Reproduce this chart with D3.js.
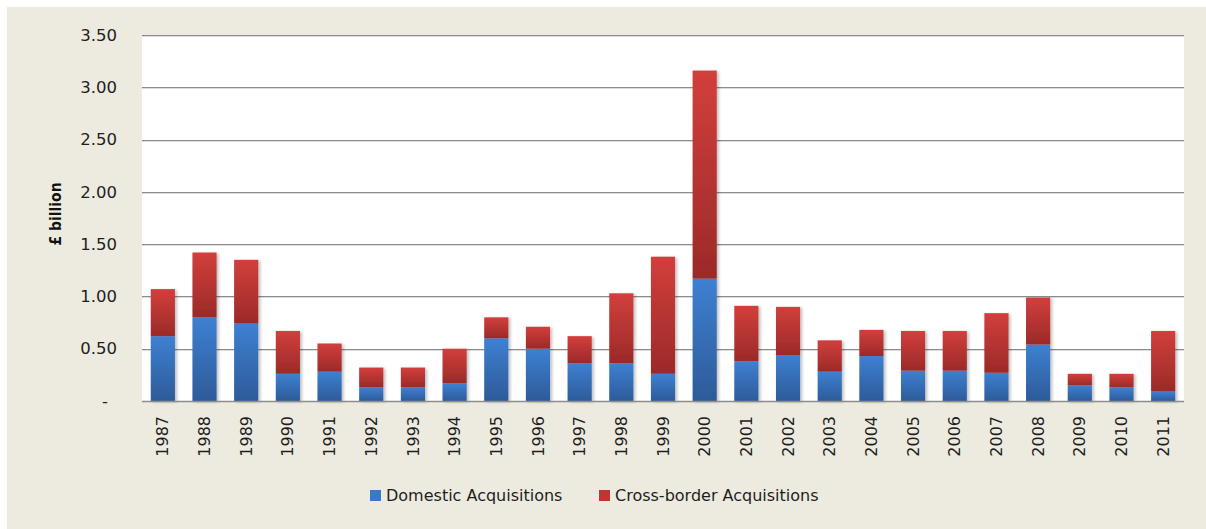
<!DOCTYPE html>
<html><head><meta charset="utf-8">
<script src="https://cdn.jsdelivr.net/npm/d3@7/dist/d3.min.js"></script>
<style>
html,body{margin:0;padding:0;background:#fff;}
svg{display:block;}
</style></head>
<body>
<svg id="chart" width="1206" height="529"></svg>
<script>
const years = ["1987","1988","1989","1990","1991","1992","1993","1994","1995","1996","1997","1998","1999","2000","2001","2002","2003","2004","2005","2006","2007","2008","2009","2010","2011"];
const domestic = [0.62,0.80,0.74,0.26,0.28,0.13,0.13,0.17,0.60,0.50,0.36,0.36,0.26,1.17,0.38,0.44,0.28,0.43,0.29,0.29,0.27,0.54,0.15,0.13,0.09];
const crossBorder = [0.45,0.62,0.61,0.41,0.27,0.19,0.19,0.33,0.20,0.21,0.26,0.67,1.12,1.99,0.53,0.46,0.30,0.25,0.38,0.38,0.57,0.45,0.11,0.13,0.58];
const yTicks = [0,0.5,1,1.5,2,2.5,3,3.5];
const yTickLabels = ["-","0.50","1.00","1.50","2.00","2.50","3.00","3.50"];
const seriesNames = ["Domestic Acquisitions","Cross-border Acquisitions"];

const svg = d3.select("#chart");
const W = 1206, H = 529;
const plot = {x0:142, x1:1184, y0:35, y1:401};

// backgrounds
svg.append("rect").attr("x",0).attr("y",0).attr("width",W).attr("height",H).attr("fill","#ffffff");
svg.append("rect").attr("x",7).attr("y",7).attr("width",W-7).attr("height",H-7).attr("fill","#EDEAE0");
svg.append("rect").attr("x",plot.x0).attr("y",plot.y0).attr("width",plot.x1-plot.x0).attr("height",plot.y1-plot.y0).attr("fill","#ffffff");

const defs = svg.append("defs");
function grad(id, top, bottom){
  const g = defs.append("linearGradient").attr("id",id).attr("x1",0).attr("y1",0).attr("x2",0).attr("y2",1);
  g.append("stop").attr("offset","0%").attr("stop-color",top);
  g.append("stop").attr("offset","100%").attr("stop-color",bottom);
}
grad("gBlue","#3E80D2","#2D5B99");
grad("gRed","#D23F3C","#9B2A28");
const f = defs.append("filter").attr("id","shadow").attr("x","-20%").attr("y","-5%").attr("width","150%").attr("height","120%");
f.append("feDropShadow").attr("dx",2).attr("dy",1).attr("stdDeviation",1.5).attr("flood-color","#000").attr("flood-opacity",0.25);

const x = d3.scaleBand().domain(years).range([plot.x0, plot.x1]).paddingInner(0.42).paddingOuter(0.21);
const y = d3.scaleLinear().domain([0,3.5]).range([plot.y1, plot.y0]);

// gridlines
svg.append("g").selectAll("line").data(yTicks.filter(d=>d>0)).join("line")
  .attr("x1",plot.x0).attr("x2",plot.x1)
  .attr("y1",d=>Math.round(y(d))+0.5).attr("y2",d=>Math.round(y(d))+0.5)
  .attr("stroke","#8c8c8c").attr("stroke-width",1.2);
svg.append("g").selectAll("line").data(yTicks.filter(d=>d>0)).join("line")
  .attr("x1",plot.x0).attr("x2",plot.x1)
  .attr("y1",d=>Math.round(y(d))+1.5).attr("y2",d=>Math.round(y(d))+1.5)
  .attr("stroke","#dcdcdc").attr("stroke-width",1);

// bars
const stackData = years.map((yr,i)=>({year:yr, d:domestic[i], c:crossBorder[i]}));
const stack = d3.stack().keys(["d","c"])(stackData);
const fills = ["url(#gBlue)","url(#gRed)"];
const bars = svg.append("g").attr("filter","url(#shadow)");
stack.forEach((layer,li)=>{
  bars.append("g").selectAll("rect").data(layer).join("rect")
    .attr("x",d=>x(d.data.year))
    .attr("width",x.bandwidth())
    .attr("y",d=>y(d[1]))
    .attr("height",d=>y(d[0])-y(d[1]))
    .attr("fill",fills[li]);
});

// baseline
svg.append("line").attr("x1",plot.x0).attr("x2",plot.x1)
  .attr("y1",plot.y1+0.5).attr("y2",plot.y1+0.5)
  .attr("stroke","#8c8c8c").attr("stroke-width",1.5);

// y axis labels
const yAxis = d3.axisLeft(y).tickValues(yTicks).tickSize(0).tickPadding(0)
  .tickFormat((d,i)=>yTickLabels[i]);
const ya = svg.append("g").attr("transform","translate(117,0)").call(yAxis);
ya.select(".domain").remove();
ya.selectAll("text").attr("font-family","DejaVu Sans").attr("font-size",16.5).attr("fill","#1e1e1e")
  .attr("dx",d=>d===0?-9:0);

// x axis labels
const xAxis = d3.axisBottom(x).tickSize(0).tickPadding(0);
const xa = svg.append("g").attr("transform",`translate(0,${plot.y1})`).call(xAxis);
xa.select(".domain").remove();
xa.selectAll("text").attr("font-family","DejaVu Sans").attr("font-size",16).attr("fill","#1e1e1e")
  .attr("transform","rotate(-90)").attr("text-anchor","end")
  .attr("x",-15).attr("y",0).attr("dy","0.35em");

// y title
svg.append("text").attr("transform","translate(61,214) rotate(-90)")
  .attr("text-anchor","middle").attr("font-family","DejaVu Sans Condensed, DejaVu Sans")
  .attr("font-weight","bold").attr("font-size",15.5).attr("fill","#111").text("£ billion");

// legend
const legendItems = [{x:370, fill:"#3A78C8", name:seriesNames[0]},{x:599, fill:"#C03532", name:seriesNames[1]}];
const lg = svg.append("g");
legendItems.forEach(it=>{
  lg.append("rect").attr("x",it.x).attr("y",490).attr("width",11).attr("height",11).attr("fill",it.fill);
  lg.append("text").attr("x",it.x+16).attr("y",501).attr("font-family","DejaVu Sans").attr("font-size",16)
    .attr("fill","#1e1e1e").text(it.name);
});
</script>
</body></html>
